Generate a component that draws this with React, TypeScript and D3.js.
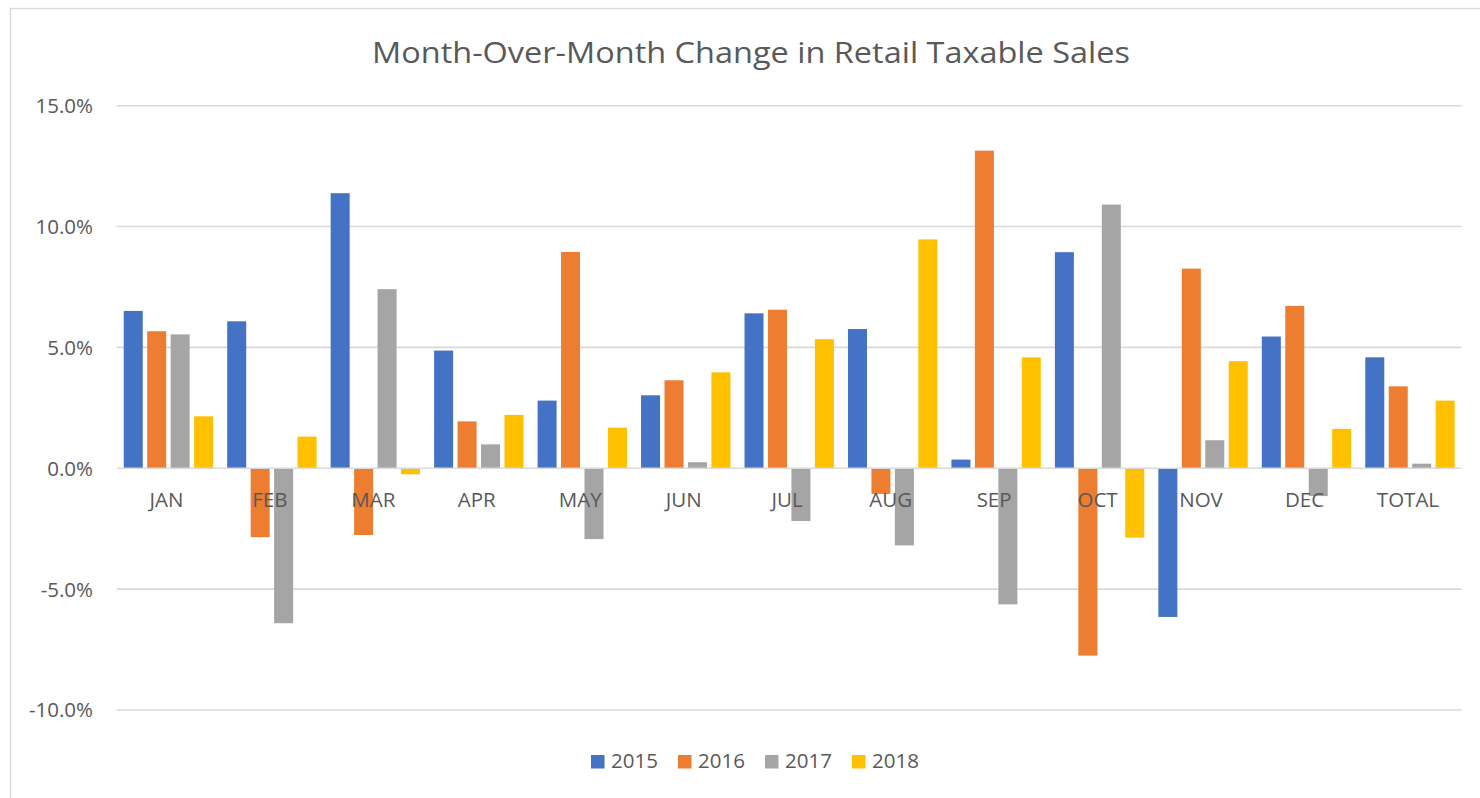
import React from "react";
import * as d3 from "d3";

const categories = ["JAN", "FEB", "MAR", "APR", "MAY", "JUN", "JUL", "AUG", "SEP", "OCT", "NOV", "DEC", "TOTAL"];
const seriesNames = ["2015", "2016", "2017", "2018"];
const v2015 = [6.51, 6.08, 11.38, 4.87, 2.8, 3.02, 6.41, 5.76, 0.36, 8.94, -6.15, 5.45, 4.59];
const v2016 = [5.67, -2.85, -2.76, 1.94, 8.95, 3.64, 6.56, -1.06, 13.14, -7.75, 8.26, 6.72, 3.39];
const v2017 = [5.54, -6.41, 7.41, 0.99, -2.93, 0.25, -2.18, -3.19, -5.63, 10.91, 1.16, -1.15, 0.19];
const v2018 = [2.15, 1.31, -0.25, 2.21, 1.68, 3.97, 5.34, 9.47, 4.59, -2.87, 4.43, 1.63, 2.8];
const yTicks = [-10, -5, 0, 5, 10, 15];
const colors = ["#4472C4", "#ED7D31", "#A5A5A5", "#FFC000"];
const title = "Month-Over-Month Change in Retail Taxable Sales";

const W = 1480;
const H = 798;
const FONT = "'Open Sans', sans-serif";
const TEXT = "#595959";
const GRID = "#d9d9d9";

export default function App() {
  const series = [v2015, v2016, v2017, v2018];
  const x = d3.scaleBand<string>().domain(categories).range([116.7, 1461.7]).padding(0);
  const inner = d3
    .scaleBand<string>()
    .domain(seriesNames)
    .range([0, x.bandwidth()])
    .paddingInner(0.19)
    .paddingOuter(0.3);
  const y = d3.scaleLinear().domain([-10, 15]).range([710, 105.7]);

  return (
    <svg width={W} height={H} style={{ position: "absolute", left: 0, top: 0, background: "#fff" }} fontFamily={FONT}>
      <rect x={10.5} y={8.5} width={W} height={H + 10} fill="#fff" stroke={GRID} strokeWidth={1.5} />
      <text
        x={751}
        y={63}
        textAnchor="middle"
        fontSize={30}
        fill={TEXT}
        textLength={758}
        lengthAdjust="spacingAndGlyphs"
      >
        {title}
      </text>
      {yTicks.map((t) => (
        <g key={t}>
          {t !== 0 && (
            <line x1={x.range()[0]} x2={x.range()[1]} y1={y(t)} y2={y(t)} stroke={GRID} strokeWidth={1.6} />
          )}
          <text x={93} y={y(t)} dy="0.36em" textAnchor="end" fontSize={20.5} fill={TEXT}>
            {t.toFixed(1) + "%"}
          </text>
        </g>
      ))}
      {series.map((vals, si) => (
        <g key={si} fill={colors[si]}>
          {vals.map((v, ci) => {
            const x0 = (x(categories[ci]) as number) + (inner(seriesNames[si]) as number);
            const y0 = y(0);
            const y1 = y(v);
            return (
              <rect
                key={ci}
                x={x0}
                y={Math.min(y0, y1)}
                width={inner.bandwidth()}
                height={Math.abs(y1 - y0)}
              />
            );
          })}
        </g>
      ))}
      <line x1={x.range()[0]} x2={x.range()[1]} y1={y(0)} y2={y(0)} stroke={GRID} strokeWidth={1.6} />
      {categories.map((c) => (
        <text
          key={c}
          x={(x(c) as number) + x.bandwidth() / 2 - 2}
          y={507}
          textAnchor="middle"
          fontSize={20.5}
          fill={TEXT}
        >
          {c}
        </text>
      ))}
      {seriesNames.map((s, i) => {
        const lx = 591 + i * 87;
        return (
          <g key={s}>
            <rect x={lx} y={755} width={13.5} height={13.5} fill={colors[i]} />
            <text x={lx + 20} y={768} fontSize={20.5} fill={TEXT}>
              {s}
            </text>
          </g>
        );
      })}
    </svg>
  );
}
